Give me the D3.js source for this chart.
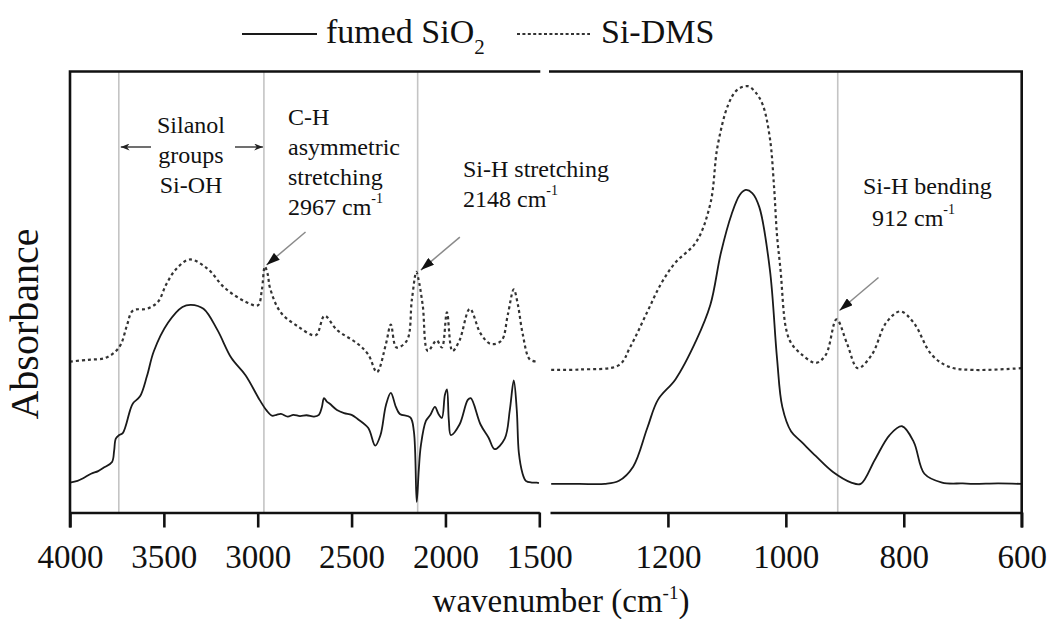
<!DOCTYPE html>
<html>
<head>
<meta charset="utf-8">
<script src="https://cdn.jsdelivr.net/npm/d3@7"></script>
<style>
  body { margin: 0; background: #fff; }
  svg text { font-family: "Liberation Serif", "Times New Roman", serif; fill: #111; }
</style>
</head>
<body>
<div id="chart"></div>
<script>
// tick labels of the two panels (broken x axis)
const leftTicks = [4000, 3500, 3000, 2500, 2000, 1500];
const rightTicks = [1200, 1000, 800, 600];

// marked bands (cm-1)
const bandLines = [3740, 2967, 2148, 912];

// fumed SiO2 spectrum (arbitrary absorbance units)
const fumedWn = [4000, 3960, 3930, 3888, 3850, 3820, 3776, 3765, 3756, 3738, 3718, 3680, 3665, 3627, 3590, 3553, 3478, 3401, 3356, 3289, 3215, 3140, 3065, 2990, 2953, 2924, 2900, 2876, 2840, 2810, 2775, 2740, 2700, 2674, 2658, 2647, 2632, 2616, 2578, 2540, 2500, 2466, 2411, 2374, 2346, 2317, 2291, 2264, 2243, 2187, 2168, 2153, 2142, 2131, 2104, 2080, 2056, 2037, 2019, 2003, 1992, 1982, 1971, 1925, 1881, 1865, 1813, 1770, 1738, 1684, 1657, 1636, 1620, 1609, 1590, 1572, 1540, 1513, 1502,
  1398, 1350, 1307, 1283, 1259, 1235, 1217, 1187, 1152, 1128, 1110, 1092, 1078, 1068, 1057, 1045, 1027, 1015, 1006, 991, 973, 949, 920, 889, 873, 849, 824, 803, 783, 765, 735, 700, 681, 640, 601];
const fumedAbs = [0.068, 0.072, 0.078, 0.088, 0.094, 0.102, 0.115, 0.140, 0.168, 0.176, 0.181, 0.232, 0.248, 0.264, 0.310, 0.367, 0.431, 0.467, 0.472, 0.463, 0.415, 0.351, 0.312, 0.256, 0.232, 0.220, 0.222, 0.224, 0.218, 0.222, 0.219, 0.221, 0.218, 0.222, 0.240, 0.260, 0.252, 0.247, 0.233, 0.226, 0.222, 0.212, 0.192, 0.152, 0.176, 0.244, 0.272, 0.240, 0.224, 0.216, 0.184, 0.024, 0.097, 0.152, 0.208, 0.222, 0.240, 0.224, 0.215, 0.267, 0.280, 0.210, 0.176, 0.200, 0.256, 0.260, 0.200, 0.170, 0.144, 0.168, 0.233, 0.300, 0.233, 0.136, 0.090, 0.072, 0.068, 0.068, 0.067,
  0.065, 0.065, 0.065, 0.072, 0.104, 0.192, 0.256, 0.303, 0.391, 0.472, 0.591, 0.678, 0.722, 0.733, 0.726, 0.694, 0.551, 0.351, 0.240, 0.184, 0.160, 0.128, 0.092, 0.068, 0.065, 0.120, 0.176, 0.196, 0.160, 0.088, 0.068, 0.066, 0.065, 0.066, 0.065];

// Si-DMS spectrum
const dmsWn = [4000, 3904, 3814, 3760, 3728, 3696, 3665, 3590, 3531, 3489, 3439, 3364, 3270, 3177, 3065, 2999, 2978, 2962, 2946, 2935, 2878, 2786, 2691, 2644, 2578, 2466, 2411, 2365, 2317, 2291, 2261, 2205, 2179, 2155, 2145, 2121, 2094, 2047, 2019, 1992, 1963, 1925, 1870, 1813, 1758, 1701, 1668, 1636, 1614, 1589, 1551, 1513,
  1398, 1349, 1283, 1264, 1235, 1212, 1188, 1152, 1128, 1116, 1098, 1083, 1065, 1052, 1039, 1027, 1020, 1015, 1009, 1000, 991, 973, 949, 932, 914, 896, 878, 854, 830, 806, 783, 753, 723, 681, 601];
const dmsAbs = [0.343, 0.347, 0.351, 0.365, 0.383, 0.426, 0.459, 0.463, 0.479, 0.517, 0.551, 0.575, 0.555, 0.511, 0.479, 0.471, 0.506, 0.559, 0.540, 0.511, 0.455, 0.423, 0.403, 0.447, 0.415, 0.383, 0.359, 0.319, 0.383, 0.427, 0.375, 0.391, 0.483, 0.547, 0.533, 0.471, 0.367, 0.391, 0.375, 0.455, 0.367, 0.391, 0.463, 0.407, 0.383, 0.391, 0.449, 0.507, 0.472, 0.407, 0.348, 0.343,
  0.324, 0.325, 0.335, 0.376, 0.456, 0.519, 0.567, 0.615, 0.702, 0.831, 0.926, 0.960, 0.969, 0.956, 0.926, 0.850, 0.740, 0.630, 0.551, 0.420, 0.385, 0.359, 0.340, 0.359, 0.439, 0.383, 0.328, 0.359, 0.431, 0.457, 0.431, 0.359, 0.331, 0.324, 0.328];

const width = 1050;
const height = 619;

const svg = d3.select("#chart")
    .append("svg")
    .attr("width", width)
    .attr("height", height);

const plotTop = 71.5, plotBottom = 512.5;
const xL = d3.scaleLinear().domain([4000, 1500]).range([70, 539.3]);
const xR = d3.scaleLinear().domain([1400, 600]).range([550, 1021.7]);
const y = d3.scaleLinear().domain([0, 1]).range([plotBottom, plotTop + 1]);

const defs = svg.append("defs");
defs.append("marker")
    .attr("id", "head")
    .attr("markerUnits", "userSpaceOnUse")
    .attr("viewBox", "0 0 12 8")
    .attr("refX", 12).attr("refY", 4)
    .attr("markerWidth", 14).attr("markerHeight", 9)
    .attr("orient", "auto")
  .append("path")
    .attr("d", "M0,0L12,4L0,8Z")
    .attr("fill", "#111");
defs.append("marker")
    .attr("id", "small")
    .attr("markerUnits", "userSpaceOnUse")
    .attr("viewBox", "0 0 10 8")
    .attr("refX", 10).attr("refY", 4)
    .attr("markerWidth", 10).attr("markerHeight", 7)
    .attr("orient", "auto")
  .append("path")
    .attr("d", "M0,0L10,4L0,8L3,4Z")
    .attr("fill", "#222");

// gray band lines
bandLines.forEach(wn => {
  const xs = wn >= 1500 ? xL : xR;
  svg.append("line")
      .attr("x1", xs(wn)).attr("x2", xs(wn))
      .attr("y1", plotTop).attr("y2", plotBottom)
      .attr("stroke", "#c4c4c4")
      .attr("stroke-width", 1.6);
});

// spectra
const panels = [
  { xs: xL, keep: wn => wn >= 1500 },
  { xs: xR, keep: wn => wn <= 1400 }
];
const series = [
  { wn: fumedWn, a: fumedAbs, dash: null, color: "#1a1a1a", w: 1.8 },
  { wn: dmsWn, a: dmsAbs, dash: "3,3", color: "#333", w: 2.2 }
];

series.forEach(s => {
  const pts = s.wn.map((wn, i) => ({ wn: wn, a: s.a[i] }));
  panels.forEach(p => {
    const line = d3.line()
        .x(d => p.xs(d.wn))
        .y(d => y(d.a))
        .curve(d3.curveCatmullRom.alpha(0.5));
    svg.append("path")
        .datum(pts.filter(d => p.keep(d.wn)))
        .attr("d", line)
        .attr("fill", "none")
        .attr("stroke", s.color)
        .attr("stroke-width", s.w)
        .attr("stroke-dasharray", s.dash);
  });
});

// axes
function drawAxis(xs, ticks) {
  const g = svg.append("g")
      .attr("transform", "translate(0," + plotBottom + ")")
      .call(d3.axisBottom(xs).tickValues(ticks).tickFormat(d3.format("d"))
        .tickSize(15).tickSizeOuter(0).tickPadding(17));
  g.select(".domain").attr("stroke", "#111").attr("stroke-width", 2.6);
  g.selectAll(".tick line").attr("stroke", "#111").attr("stroke-width", 2.6);
  g.selectAll(".tick text")
      .attr("font-size", 33)
      .attr("fill", "#111");
}
drawAxis(xL, leftTicks);
drawAxis(xR, rightTicks);

// frame: top lines and outer vertical edges
const frame = svg.append("g").attr("stroke", "#111").attr("stroke-width", 2.6).attr("fill", "none");
frame.append("path").attr("d", d3.line()([[xL.range()[0], plotBottom + 15], [xL.range()[0], plotTop], [xL.range()[1] + 1, plotTop]]));
frame.append("path").attr("d", d3.line()([[xR.range()[0] - 1, plotTop], [xR.range()[1], plotTop], [xR.range()[1], plotBottom + 15]]));

// legend
const legend = svg.append("g");
legend.append("line").attr("x1", 242).attr("x2", 317).attr("y1", 34).attr("y2", 34)
    .attr("stroke", "#1a1a1a").attr("stroke-width", 1.8);
const t1 = legend.append("text").attr("x", 326).attr("y", 43).attr("font-size", 34);
t1.append("tspan").text("fumed SiO");
t1.append("tspan").attr("font-size", 21).attr("dy", 11).text("2");
legend.append("line").attr("x1", 517).attr("x2", 590).attr("y1", 34).attr("y2", 34)
    .attr("stroke", "#333").attr("stroke-width", 2).attr("stroke-dasharray", "3,2.4");
legend.append("text").attr("x", 601).attr("y", 43).attr("font-size", 34).text("Si-DMS");

// axis titles
const xt = svg.append("text").attr("x", 561).attr("y", 612).attr("text-anchor", "middle").attr("font-size", 33);
xt.append("tspan").text("wavenumber (cm");
xt.append("tspan").attr("font-size", 19).attr("dy", -13).text("-1");
xt.append("tspan").attr("dy", 13).text(")");

svg.append("text")
    .attr("transform", "translate(38,324) rotate(-90)")
    .attr("text-anchor", "middle")
    .attr("font-size", 40)
    .text("Absorbance");

// annotations
function label(x, yb, lines, anchor) {
  lines.forEach((ln, i) => {
    const t = svg.append("text")
        .attr("x", x).attr("y", yb + i * 30)
        .attr("font-size", 24)
        .attr("text-anchor", anchor || "start");
    if (ln.endsWith(" cm")) {
      t.append("tspan").text(ln);
      t.append("tspan").attr("font-size", 14).attr("dy", -12).text("-1");
    } else {
      t.text(ln);
    }
  });
}
label(191, 133, ["Silanol", "groups", "Si-OH"], "middle");
label(288, 125, ["C-H", "asymmetric", "stretching", "2967 cm"]);
label(463, 177, ["Si-H stretching", "2148 cm"]);
label(863, 194, ["Si-H bending"]);
label(872, 226, ["912 cm"]);

// silanol range arrows
svg.append("line").attr("x1", 151).attr("x2", xL(3740) + 2).attr("y1", 147).attr("y2", 147)
    .attr("stroke", "#333").attr("stroke-width", 1.4).attr("marker-end", "url(#small)");
svg.append("line").attr("x1", 235).attr("x2", xL(2967) - 1).attr("y1", 147).attr("y2", 147)
    .attr("stroke", "#333").attr("stroke-width", 1.4).attr("marker-end", "url(#small)");

// peak pointers
const pointers = [
  { xs: xL, wn: 2953, a: 0.5625 },
  { xs: xL, wn: 2131, a: 0.551 },
  { xs: xR, wn: 909, a: 0.459 }
];
pointers.forEach(p => {
  const tx = p.xs(p.wn), ty = y(p.a);
  svg.append("line")
      .attr("x1", tx + 39).attr("y1", ty - 33)
      .attr("x2", tx).attr("y2", ty)
      .attr("stroke", "#8a8a8a").attr("stroke-width", 1.5)
      .attr("marker-end", "url(#head)");
});
</script>
</body>
</html>
